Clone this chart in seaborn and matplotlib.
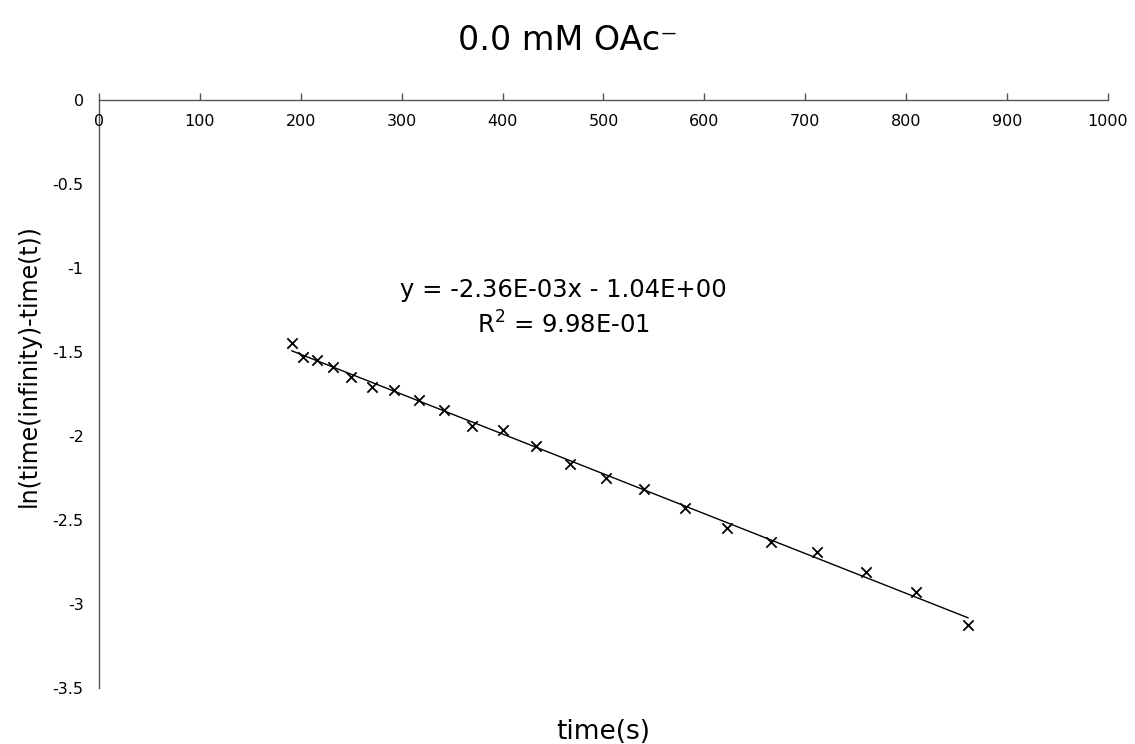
import numpy as np
import pandas as pd
import matplotlib
matplotlib.use("Agg")
import matplotlib.pyplot as plt
import seaborn as sns

# time (s) and ln(time(infinity)-time(t))
time_s = [191, 202.5, 216, 232, 250, 271, 292, 317, 342, 370, 400, 433,
          467, 502.5, 540, 581, 622, 666, 712, 760, 810, 861.5]
ln_val = [-1.445, -1.528, -1.548, -1.588, -1.647, -1.707, -1.726, -1.786,
          -1.845, -1.939, -1.966, -2.060, -2.168, -2.248, -2.315, -2.427,
          -2.545, -2.629, -2.692, -2.808, -2.927, -3.125]

fit_text = "y = -2.36E-03x - 1.04E+00\nR$^2$ = 9.98E-01"
title = "0.0 mM OAc\u207b"

df = pd.DataFrame({"t": time_s, "ln": ln_val})

sns.set_style("white")
plt.rcParams['font.family'] = ['DejaVu Sans']
plt.rcParams['text.color'] = 'black'
plt.rcParams['axes.labelcolor'] = 'black'
plt.rcParams['xtick.color'] = 'black'
plt.rcParams['ytick.color'] = 'black'

fig = plt.figure(figsize=(11.35, 7.44), dpi=100)
ax = fig.add_axes([0.0872, 0.0753, 0.889, 0.790])

sns.regplot(data=df, x="t", y="ln", ax=ax, ci=None, marker="x",
            color="black", scatter_kws={"s": 55, "linewidths": 1.3, "alpha": 1},
            line_kws={"linewidth": 1.0})

ax.set_xlim(0, 1000)
ax.set_ylim(-3.5, 0)
ax.set_xticks(np.arange(0, 1001, 100))
ax.set_yticks(np.arange(-3.5, 0.01, 0.5))
ax.set_yticklabels(["-3.5", "-3", "-2.5", "-2", "-1.5", "-1", "-0.5", "0"])

# x axis sits along y = 0 (top), ticks upward, labels below the line
spine_col = "#555555"
ax.spines["right"].set_visible(False)
ax.spines["bottom"].set_visible(False)
ax.spines["top"].set_visible(True)
for s in ["top", "left"]:
    ax.spines[s].set_color(spine_col)
    ax.spines[s].set_linewidth(1.0)
ax.xaxis.set_ticks_position("top")
ax.tick_params(axis="x", direction="out", length=5, width=1, color=spine_col,
               labeltop=False, labelbottom=False)
ax.tick_params(axis="y", direction="out", length=5, width=1, color=spine_col,
               labelsize=11.5, pad=6)
for xv in np.arange(0, 1001, 100):
    ax.text(xv, -0.08, str(int(xv)), ha="center", va="top", fontsize=11.5)

ax.set_xlabel("time(s)", fontsize=19, labelpad=22)
ax.set_ylabel("ln(time(infinity)-time(t))", fontsize=17)
ax.xaxis.set_label_position("bottom")
ax.yaxis.set_label_coords(-0.058, 0.549)
fig.text(0.5, 0.946, title, ha="center", va="center", fontsize=24)

ax.text(460, -1.238, fit_text, ha="center", va="center", fontsize=17.5,
        linespacing=1.42)

fig.savefig("out.png", dpi=100)
